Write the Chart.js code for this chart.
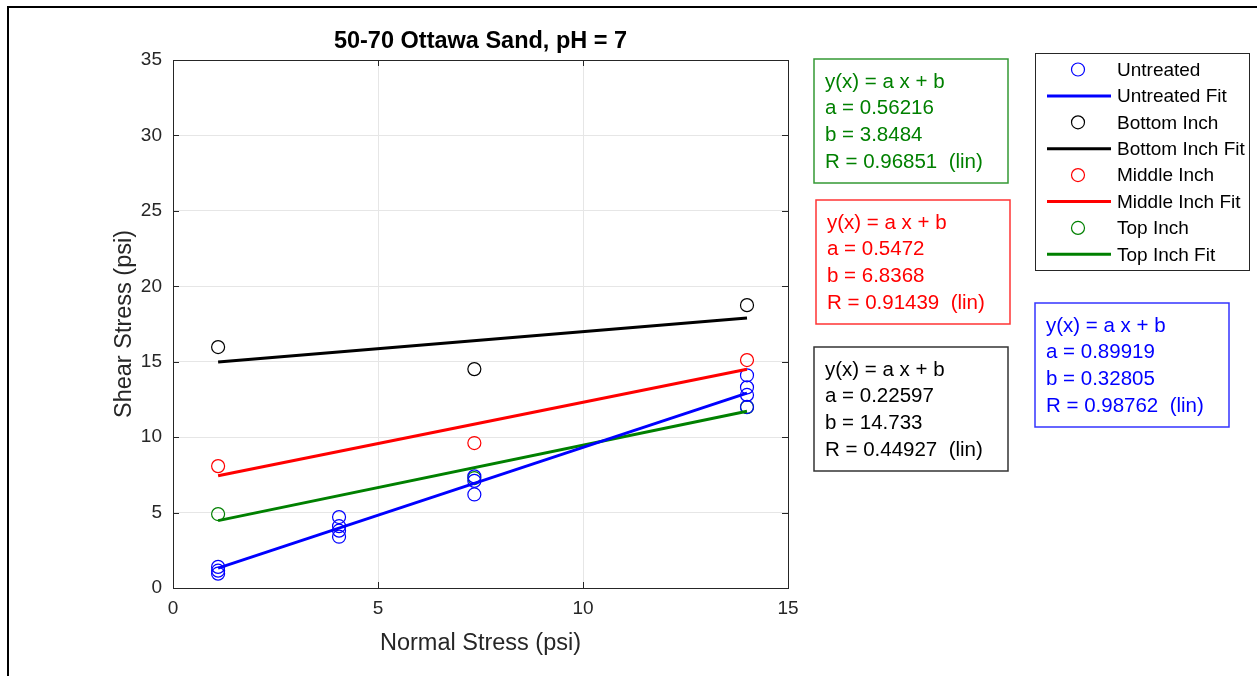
<!DOCTYPE html>
<html>
<head>
<meta charset="utf-8">
<title>50-70 Ottawa Sand, pH = 7</title>
<script src="https://cdn.jsdelivr.net/npm/chart.js@4.4.1/dist/chart.umd.min.js"></script>
<style>
    html, body { margin: 0; padding: 0; background: #fff; }
    #wrap { width: 1257px; height: 676px; }
</style>
</head>
<body>
<div id="wrap"><canvas id="shearChart" width="1257" height="676"></canvas></div>
<script>
// Measured points (normal stress vs shear stress, psi)
const untreatedX = [1.1, 1.1, 1.1, 4.05, 4.05, 4.05, 4.05, 7.35, 7.35, 7.35, 14, 14, 14, 14];
const untreatedY = [1.4, 1.15, 0.95, 4.7, 4.1, 3.8, 3.4, 7.4, 7.1, 6.2, 14.1, 13.3, 12.8, 12.0];
const bottomX = [1.1, 7.35, 14];
const bottomY = [15.97, 14.51, 18.75];
const middleX = [1.1, 7.35, 14];
const middleY = [8.08, 9.61, 15.11];
const topX = [1.1, 7.35, 14];
const topY = [4.9, 7.29, 11.99];

// Linear fit coefficients y = a x + b, with R
const fitA = ['0.89919', '0.22597', '0.5472', '0.56216'];
const fitB = ['0.32805', '14.733', '6.8368', '3.8484'];
const fitR = ['0.98762', '0.44927', '0.91439', '0.96851'];
const fitRange = [1.1, 14];

const xTicks = [0, 5, 10, 15];
const yTicks = [0, 5, 10, 15, 20, 25, 30, 35];

const colors = {
    blue: '#0000ff',
    black: '#000000',
    red: '#ff0000',
    green: '#008000'
};
const seriesColors = [colors.blue, colors.black, colors.red, colors.green];

const FONT = '"Liberation Sans", Arial, Helvetica, sans-serif';

function pts(xs, ys) {
    return xs.map((x, i) => ({ x: x, y: ys[i] }));
}

function fitLine(k) {
    const a = parseFloat(fitA[k]), b = parseFloat(fitB[k]);
    return fitRange.map(x => ({ x: x, y: a * x + b }));
}

function markerSet(label, data, color) {
    return {
        label: label,
        data: data,
        showLine: false,
        pointStyle: 'circle',
        pointRadius: 6.5,
        pointHoverRadius: 6.5,
        pointBorderWidth: 1.2,
        pointBorderColor: color,
        pointBackgroundColor: 'rgba(0,0,0,0)',
        borderColor: color,
        order: 2
    };
}

function fitSet(label, k, color) {
    return {
        label: label,
        data: fitLine(k),
        showLine: true,
        borderColor: color,
        borderWidth: 3,
        pointRadius: 0,
        fill: false,
        order: 1
    };
}

const datasets = [
    markerSet('Untreated', pts(untreatedX, untreatedY), colors.blue),
    fitSet('Untreated Fit', 0, colors.blue),
    markerSet('Bottom Inch', pts(bottomX, bottomY), colors.black),
    fitSet('Bottom Inch Fit', 1, colors.black),
    markerSet('Middle Inch', pts(middleX, middleY), colors.red),
    fitSet('Middle Inch Fit', 2, colors.red),
    markerSet('Top Inch', pts(topX, topY), colors.green),
    fitSet('Top Inch Fit', 3, colors.green)
];

// Boxes with the fit equations: [series index, left, top, right, bottom]
const fitBoxes = [
    [3, 814, 59, 1008, 183],
    [2, 816, 200, 1010, 324],
    [1, 814, 347, 1008, 471],
    [0, 1035, 303, 1229, 427]
];

const decorPlugin = {
    id: 'decor',
    afterDraw(chart) {
        const ctx = chart.ctx;
        const area = chart.chartArea;
        const xs = chart.scales.x, ys = chart.scales.y;
        ctx.save();

        // figure frame (top and left edges)
        ctx.strokeStyle = '#000';
        ctx.lineWidth = 2;
        ctx.beginPath();
        ctx.moveTo(8, 676);
        ctx.lineTo(8, 7);
        ctx.lineTo(1257, 7);
        ctx.stroke();

        // axes box and inward ticks
        ctx.strokeStyle = '#262626';
        ctx.lineWidth = 1;
        ctx.strokeRect(Math.round(area.left) + 0.5, Math.round(area.top) + 0.5,
            Math.round(area.right - area.left), Math.round(area.bottom - area.top));
        ctx.beginPath();
        xTicks.forEach(v => {
            const px = Math.round(xs.getPixelForValue(v)) + 0.5;
            ctx.moveTo(px, area.bottom); ctx.lineTo(px, area.bottom - 6);
            ctx.moveTo(px, area.top); ctx.lineTo(px, area.top + 6);
        });
        yTicks.forEach(v => {
            const py = Math.round(ys.getPixelForValue(v)) + 0.5;
            ctx.moveTo(area.left, py); ctx.lineTo(area.left + 6, py);
            ctx.moveTo(area.right, py); ctx.lineTo(area.right - 6, py);
        });
        ctx.stroke();

        // title
        ctx.fillStyle = '#000';
        ctx.font = 'bold 23.5px ' + FONT;
        ctx.textAlign = 'center';
        ctx.textBaseline = 'middle';
        ctx.fillText('50-70 Ottawa Sand, pH = 7', (area.left + area.right) / 2, 42);

        // fit equation boxes
        ctx.textAlign = 'left';
        ctx.font = '20.5px ' + FONT;
        fitBoxes.forEach(([k, l, t, r, b]) => {
            ctx.strokeStyle = seriesColors[k];
            ctx.globalAlpha = 0.8;
            ctx.lineWidth = 1.5;
            ctx.strokeRect(l, t, r - l, b - t);
            ctx.globalAlpha = 1;
            ctx.fillStyle = seriesColors[k];
            const lines = ['y(x) = a x + b', 'a = ' + fitA[k], 'b = ' + fitB[k], 'R = ' + fitR[k] + '  (lin)'];
            lines.forEach((s, i) => ctx.fillText(s, l + 11, t + 23 + i * 26.7));
        });

        // legend
        const lg = { l: 1035, t: 53, r: 1249, b: 270 };
        ctx.fillStyle = '#fff';
        ctx.fillRect(lg.l, lg.t, lg.r - lg.l, lg.b - lg.t);
        ctx.strokeStyle = '#262626';
        ctx.lineWidth = 1;
        ctx.strokeRect(lg.l + 0.5, lg.t + 0.5, lg.r - lg.l, lg.b - lg.t);
        ctx.font = '19px ' + FONT;
        chart.data.datasets.forEach((ds, i) => {
            const cy = 69.5 + i * 26.4;
            if (ds.showLine) {
                ctx.strokeStyle = ds.borderColor;
                ctx.lineWidth = 3;
                ctx.beginPath();
                ctx.moveTo(1047, cy); ctx.lineTo(1111, cy);
                ctx.stroke();
            } else {
                ctx.strokeStyle = ds.pointBorderColor;
                ctx.lineWidth = 1.2;
                ctx.beginPath();
                ctx.arc(1078, cy, 6.5, 0, Math.PI * 2);
                ctx.stroke();
            }
            ctx.fillStyle = '#000';
            ctx.fillText(ds.label, 1117, cy + 1);
        });

        ctx.restore();
    }
};

const chart = new Chart(document.getElementById('shearChart').getContext('2d'), {
    type: 'scatter',
    data: { datasets: datasets },
    options: {
        responsive: false,
        animation: false,
        events: [],
        layout: { padding: { left: 0, top: 60, right: 469, bottom: 0 } },
        plugins: {
            legend: { display: false },
            tooltip: { enabled: false }
        },
        scales: {
            x: {
                type: 'linear',
                min: 0,
                max: 15,
                afterFit(scale) { scale.height = 88; },
                afterBuildTicks(scale) { scale.ticks = xTicks.map(v => ({ value: v })); },
                ticks: {
                    color: '#262626',
                    font: { family: FONT, size: 19 },
                    padding: 9,
                    maxRotation: 0
                },
                grid: { color: '#e6e6e6', drawTicks: false },
                border: { color: '#262626' },
                title: {
                    display: true,
                    text: 'Normal Stress (psi)',
                    color: '#262626',
                    font: { family: FONT, size: 23.5 },
                    padding: { top: 0, bottom: 18 }
                }
            },
            y: {
                type: 'linear',
                min: 0,
                max: 35,
                afterFit(scale) { scale.width = 173; },
                afterBuildTicks(scale) { scale.ticks = yTicks.map(v => ({ value: v })); },
                ticks: {
                    color: '#262626',
                    font: { family: FONT, size: 19 },
                    padding: 11
                },
                grid: { color: '#e6e6e6', drawTicks: false },
                border: { color: '#262626' },
                title: {
                    display: true,
                    text: 'Shear Stress (psi)',
                    color: '#262626',
                    font: { family: FONT, size: 23.5 },
                    padding: { top: 110, bottom: 0 }
                }
            }
        }
    },
    plugins: [decorPlugin]
});
</script>
</body>
</html>
